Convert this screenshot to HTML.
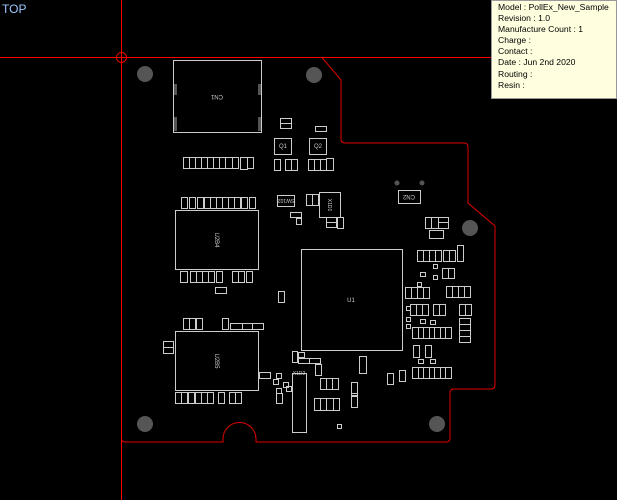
<!DOCTYPE html>
<html><head><meta charset="utf-8"><style>
html,body{margin:0;padding:0;background:#000;width:617px;height:500px;overflow:hidden}
svg{display:block}
.info{position:absolute;left:491px;top:0;width:126px;height:99px;background:#ffffe0;border:1px solid #999;font:8.6px "Liberation Sans",sans-serif;color:#000;line-height:11.1px;padding:1px 0 0 6px;box-sizing:border-box}
.hl{position:absolute;left:0;top:57px;width:617px;height:1px;background:#ff0000}
.vl{position:absolute;left:121px;top:0;width:1px;height:500px;background:#ff0000}
</style></head><body>
<svg width="617" height="500" xmlns="http://www.w3.org/2000/svg">
<g stroke="#e00000" fill="none" stroke-width="1">
<circle cx="121.5" cy="57.5" r="5"/>
<path d="M121.5 57.5 H322 L341 80 V139 Q341 143 345 143 H464 Q468 143 468 147 V203 L495 226 V385 Q495 389 491 389 H454 Q450 389 450 393 V438 Q450 442 446 442 H256 V439 A16 16 0 0 0 223 439 V442 H125 Q121.5 442 121.5 438"/>
</g>
<g fill="#555">
<circle cx="145" cy="74" r="8"/><circle cx="314" cy="75" r="8"/>
<circle cx="470" cy="228" r="8"/><circle cx="145" cy="424" r="8"/><circle cx="437" cy="424" r="8"/>
<circle cx="397" cy="183" r="2.5"/><circle cx="422" cy="183" r="2.5"/>
<rect x="173" y="84" width="4" height="11"/><rect x="258" y="84" width="4" height="11"/>
<rect x="173" y="117" width="4" height="14"/><rect x="258" y="117" width="4" height="14"/>
</g>
<g stroke="#ccc" fill="none" stroke-width="1">
<rect x="173.5" y="60.5" width="88" height="72"/>
<rect x="175.5" y="210.5" width="83" height="59"/>
<rect x="301.5" y="249.5" width="101" height="101"/>
<rect x="175.5" y="331.5" width="83" height="59"/>
<rect x="292.5" y="373.5" width="14" height="59"/>
<rect x="319.5" y="192.5" width="21" height="25"/>
<rect x="398.5" y="190.5" width="22" height="13"/>
<rect x="274.5" y="138.5" width="17" height="16"/>
<rect x="309.5" y="138.5" width="17" height="16"/>
<rect x="277.5" y="195.5" width="17" height="11"/>
<rect x="280.5" y="118.5" width="11" height="5"/><rect x="280.5" y="123.5" width="11" height="5"/>
<rect x="315.5" y="126.5" width="11" height="5"/>
<rect x="183.5" y="157.5" width="6" height="11"/><rect x="189.5" y="157.5" width="6" height="11"/><rect x="195.5" y="157.5" width="6" height="11"/><rect x="201.5" y="157.5" width="6" height="11"/><rect x="207.5" y="157.5" width="6" height="11"/><rect x="213.5" y="157.5" width="6" height="11"/><rect x="219.5" y="157.5" width="6" height="11"/><rect x="225.5" y="157.5" width="7" height="11"/><rect x="232.5" y="157.5" width="6" height="11"/><rect x="240.5" y="157.5" width="7" height="12"/><rect x="247.5" y="157.5" width="6" height="11"/>
<rect x="274.5" y="159.5" width="6" height="11"/><rect x="285.5" y="159.5" width="6" height="11"/><rect x="291.5" y="159.5" width="6" height="11"/>
<rect x="308.5" y="159.5" width="6" height="11"/><rect x="314.5" y="159.5" width="6" height="11"/><rect x="320.5" y="159.5" width="6" height="11"/><rect x="326.5" y="158.5" width="7" height="12"/>
<rect x="181.5" y="197.5" width="6" height="11"/><rect x="189.5" y="197.5" width="6" height="11"/><rect x="197.5" y="197.5" width="6" height="11"/><rect x="204.5" y="197.5" width="6" height="11"/><rect x="210.5" y="197.5" width="6" height="11"/><rect x="216.5" y="197.5" width="6" height="11"/><rect x="222.5" y="197.5" width="6" height="11"/><rect x="228.5" y="197.5" width="6" height="11"/><rect x="234.5" y="197.5" width="6" height="11"/><rect x="241.5" y="197.5" width="6" height="11"/><rect x="249.5" y="197.5" width="6" height="11"/>
<rect x="306.5" y="194.5" width="6" height="11"/><rect x="312.5" y="194.5" width="6" height="11"/>
<rect x="290.5" y="212.5" width="11" height="5"/><rect x="296.5" y="218.5" width="5" height="6"/>
<rect x="326.5" y="217.5" width="10" height="5"/><rect x="326.5" y="222.5" width="10" height="5"/><rect x="337.5" y="217.5" width="6" height="11"/>
<rect x="180.5" y="271.5" width="7" height="11"/><rect x="190.5" y="271.5" width="6" height="11"/><rect x="196.5" y="271.5" width="6" height="11"/><rect x="202.5" y="271.5" width="6" height="11"/><rect x="208.5" y="271.5" width="6" height="11"/><rect x="216.5" y="271.5" width="6" height="11"/>
<rect x="232.5" y="271.5" width="6" height="11"/><rect x="238.5" y="271.5" width="6" height="11"/><rect x="246.5" y="271.5" width="6" height="11"/>
<rect x="215.5" y="287.5" width="11" height="6"/>
<rect x="278.5" y="291.5" width="6" height="11"/>
<rect x="183.5" y="318.5" width="6" height="11"/><rect x="189.5" y="318.5" width="6" height="11"/><rect x="196.5" y="318.5" width="6" height="11"/>
<rect x="222.5" y="318.5" width="6" height="11"/><rect x="230.5" y="323.5" width="12" height="6"/><rect x="242.5" y="323.5" width="10" height="6"/><rect x="252.5" y="323.5" width="11" height="6"/>
<rect x="163.5" y="341.5" width="10" height="6"/><rect x="163.5" y="347.5" width="10" height="6"/>
<rect x="175.5" y="392.5" width="6" height="11"/><rect x="181.5" y="392.5" width="6" height="11"/><rect x="188.5" y="392.5" width="6" height="11"/><rect x="195.5" y="392.5" width="6" height="11"/><rect x="201.5" y="392.5" width="6" height="11"/><rect x="207.5" y="392.5" width="6" height="11"/>
<rect x="218.5" y="392.5" width="6" height="11"/><rect x="229.5" y="392.5" width="6" height="11"/><rect x="235.5" y="392.5" width="6" height="11"/>
<rect x="259.5" y="372.5" width="11" height="6"/><rect x="276.5" y="373.5" width="5" height="5"/><rect x="273.5" y="379.5" width="5" height="5"/><rect x="283.5" y="382.5" width="5" height="5"/><rect x="286.5" y="386.5" width="5" height="5"/><rect x="276.5" y="388.5" width="5" height="5"/><rect x="276.5" y="393.5" width="6" height="10"/>
<rect x="292.5" y="351.5" width="5" height="11"/><rect x="298.5" y="352.5" width="6" height="5"/><rect x="298.5" y="358.5" width="11" height="5"/><rect x="309.5" y="358.5" width="11" height="5"/>
<rect x="315.5" y="364.5" width="6" height="11"/>
<rect x="320.5" y="378.5" width="6" height="11"/><rect x="326.5" y="378.5" width="6" height="11"/><rect x="332.5" y="378.5" width="6" height="11"/>
<rect x="314.5" y="398.5" width="6" height="12"/><rect x="320.5" y="398.5" width="6" height="12"/><rect x="326.5" y="398.5" width="7" height="12"/><rect x="333.5" y="398.5" width="6" height="12"/>
<rect x="359.5" y="356.5" width="7" height="17"/>
<rect x="351.5" y="382.5" width="6" height="11"/><rect x="351.5" y="393.5" width="6" height="2"/><rect x="351.5" y="396.5" width="6" height="11"/>
<rect x="337.5" y="424.5" width="4" height="4"/>
<rect x="387.5" y="373.5" width="6" height="11"/><rect x="399.5" y="370.5" width="6" height="11"/>
<rect x="425.5" y="217.5" width="6" height="11"/><rect x="431.5" y="217.5" width="7" height="11"/><rect x="438.5" y="217.5" width="10" height="5"/><rect x="438.5" y="222.5" width="10" height="6"/>
<rect x="429.5" y="230.5" width="14" height="8"/>
<rect x="417.5" y="250.5" width="6" height="11"/><rect x="423.5" y="250.5" width="6" height="11"/><rect x="429.5" y="250.5" width="6" height="11"/><rect x="435.5" y="250.5" width="6" height="11"/><rect x="443.5" y="250.5" width="6" height="11"/><rect x="449.5" y="250.5" width="6" height="11"/><rect x="457.5" y="245.5" width="6" height="16"/>
<rect x="433.5" y="264.5" width="4" height="4"/><rect x="433.5" y="275.5" width="4" height="4"/><rect x="420.5" y="272.5" width="5" height="4"/><rect x="417.5" y="282.5" width="4" height="4"/>
<rect x="442.5" y="268.5" width="6" height="10"/><rect x="448.5" y="268.5" width="6" height="10"/>
<rect x="405.5" y="287.5" width="6" height="11"/><rect x="411.5" y="287.5" width="6" height="11"/><rect x="417.5" y="287.5" width="6" height="11"/><rect x="423.5" y="287.5" width="6" height="11"/>
<rect x="446.5" y="286.5" width="6" height="11"/><rect x="452.5" y="286.5" width="6" height="11"/><rect x="458.5" y="286.5" width="6" height="11"/><rect x="464.5" y="286.5" width="6" height="11"/>
<rect x="406.5" y="306.5" width="4" height="4"/><rect x="410.5" y="304.5" width="6" height="11"/><rect x="416.5" y="304.5" width="6" height="11"/><rect x="422.5" y="304.5" width="6" height="11"/>
<rect x="433.5" y="304.5" width="6" height="11"/><rect x="439.5" y="304.5" width="6" height="11"/>
<rect x="459.5" y="304.5" width="6" height="11"/><rect x="465.5" y="304.5" width="6" height="11"/>
<rect x="406.5" y="317.5" width="4" height="4"/><rect x="406.5" y="324.5" width="4" height="4"/><rect x="420.5" y="319.5" width="5" height="4"/><rect x="430.5" y="320.5" width="5" height="4"/>
<rect x="412.5" y="327.5" width="6" height="11"/><rect x="418.5" y="327.5" width="5" height="11"/><rect x="423.5" y="327.5" width="6" height="11"/><rect x="429.5" y="327.5" width="5" height="11"/><rect x="434.5" y="327.5" width="6" height="11"/><rect x="440.5" y="327.5" width="5" height="11"/><rect x="445.5" y="327.5" width="6" height="11"/>
<rect x="459.5" y="318.5" width="11" height="6"/><rect x="459.5" y="324.5" width="11" height="6"/><rect x="459.5" y="330.5" width="11" height="6"/><rect x="459.5" y="336.5" width="11" height="6"/>
<rect x="413.5" y="345.5" width="6" height="12"/><rect x="425.5" y="345.5" width="6" height="12"/>
<rect x="418.5" y="359.5" width="5" height="4"/><rect x="430.5" y="359.5" width="5" height="4"/>
<rect x="412.5" y="367.5" width="6" height="11"/><rect x="418.5" y="367.5" width="5" height="11"/><rect x="423.5" y="367.5" width="6" height="11"/><rect x="429.5" y="367.5" width="5" height="11"/><rect x="434.5" y="367.5" width="6" height="11"/><rect x="440.5" y="367.5" width="5" height="11"/><rect x="445.5" y="367.5" width="6" height="11"/>
</g>
<g fill="#ccc" font-family="Liberation Sans,sans-serif" font-size="6">
<text x="217" y="99" transform="rotate(180 217 97)" text-anchor="middle">CN1</text>
<text x="283" y="148" text-anchor="middle">Q1</text>
<text x="318" y="148" text-anchor="middle">Q2</text>
<text x="351" y="302" text-anchor="middle">U1</text>
<text x="409" y="199" transform="rotate(180 409 197)" text-anchor="middle">CN2</text>
<text x="286" y="203" transform="rotate(180 286 201)" text-anchor="middle" font-size="5">SW102</text>
<text x="217" y="242" transform="rotate(90 217 240)" text-anchor="middle">U2B4</text>
<text x="217" y="363" transform="rotate(90 217 361)" text-anchor="middle">U2B5</text>
<text x="330" y="207" transform="rotate(90 330 205)" text-anchor="middle" font-size="5">X1D1</text>
<text x="299" y="375" text-anchor="middle" font-size="5">X1D2</text>
</g>
<text x="2" y="13" fill="#9cc8ff" font-family="Liberation Sans,sans-serif" font-size="12">TOP</text>
</svg>
<div class="hl"></div><div class="vl"></div>
<div class="info">Model : PollEx_New_Sample<br>Revision : 1.0<br>Manufacture Count : 1<br>Charge :<br>Contact :<br>Date : Jun 2nd 2020<br>Routing :<br>Resin :</div>
</body></html>
